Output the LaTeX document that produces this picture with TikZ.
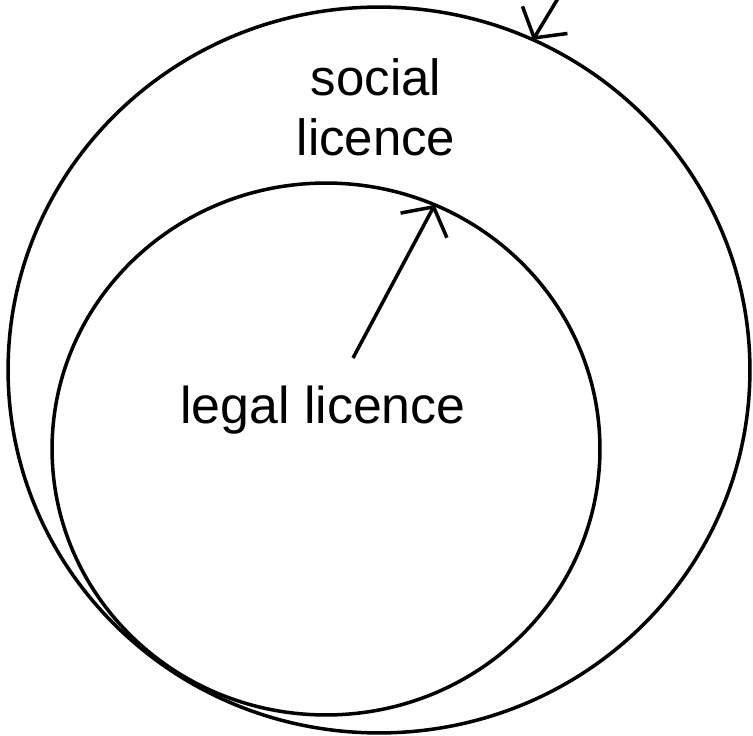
\documentclass[tikz,border=0pt]{standalone}
\usepackage{fontspec}
\setmainfont{Liberation Sans}
\usetikzlibrary{shapes.geometric,arrows.meta}
\begin{document}
\begin{tikzpicture}[x=0.02cm,y=-0.02cm,
	ring/.style={draw, ellipse, line width=2pt, inner sep=0pt, outer sep=0pt},
	pointer/.style={-{Straight Barb[length=0.42cm,width=1.05cm]}, line width=2pt}]
					\clip (0,0) rectangle (753,736);
					\node[ring, minimum width=14.84cm, minimum height=14.52cm] (social) at (379,370) {};
					\node[ring, minimum width=10.96cm, minimum height=10.64cm] (legal) at (326,449) {};
					\node[anchor=north, inner sep=0pt, align=center, font=\fontsize{29}{34}\selectfont] (socialtext) at (376,58) {social\\licence};
					\node[anchor=base, inner sep=0pt, font=\fontsize{29.5}{34}\selectfont] (legaltext) at (323,423) {legal licence};
					\coordinate (legalstart) at (353,358);
					\coordinate (socialstart) at (560,-5);
					\draw[pointer] (legalstart) -- (legal.66);
					\draw[pointer] (socialstart) -- (social.65);
				\end{tikzpicture}
\end{document}
